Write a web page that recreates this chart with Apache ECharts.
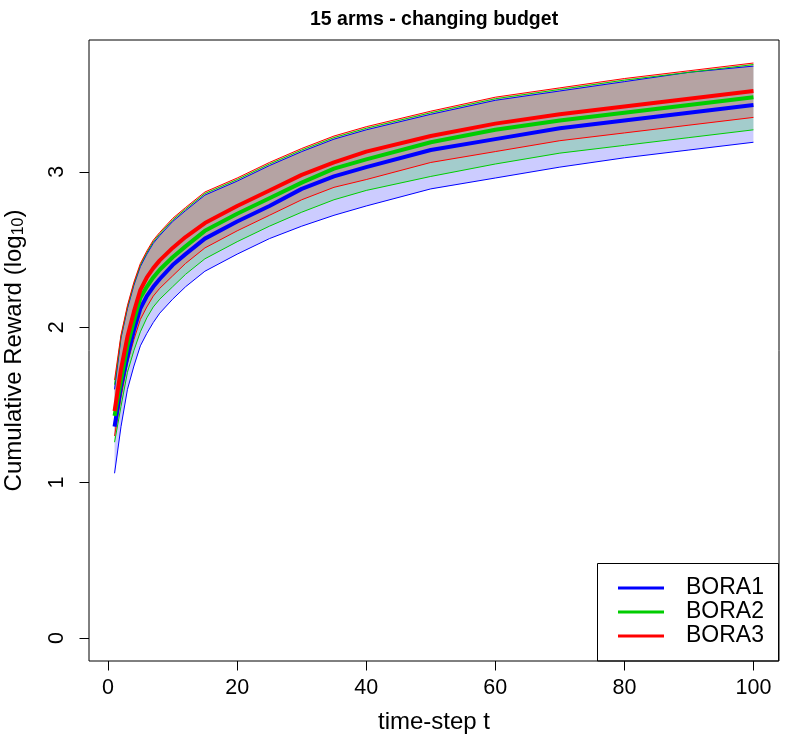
<!DOCTYPE html>
<html>
<head>
<meta charset="utf-8">
<title>15 arms - changing budget</title>
<script src="https://cdn.jsdelivr.net/npm/echarts@6/dist/echarts.min.js"></script>
<style>
  html, body { margin: 0; padding: 0; background: #fff; }
  #chart { width: 800px; height: 740px; }
</style>
</head>
<body>
<div id="chart"></div>
<script>
// time steps
var steps = [1, 2, 3, 4, 5, 6, 7, 8, 10, 12, 15, 20, 25, 30, 35, 40, 50, 60, 70, 80, 90, 100];

// BORA1 (blue)
var bora1Mean  = [1.36, 1.62, 1.81, 1.98, 2.12, 2.20, 2.26, 2.31, 2.40, 2.47, 2.57, 2.68, 2.78, 2.89, 2.97, 3.03, 3.14, 3.21, 3.28, 3.33, 3.38, 3.43];
var bora1Lower = [1.06, 1.36, 1.60, 1.75, 1.88, 1.96, 2.03, 2.09, 2.18, 2.26, 2.36, 2.47, 2.57, 2.65, 2.72, 2.78, 2.89, 2.96, 3.03, 3.09, 3.14, 3.19];
var bora1Upper = [1.60, 1.93, 2.12, 2.27, 2.39, 2.47, 2.54, 2.59, 2.68, 2.75, 2.85, 2.94, 3.04, 3.13, 3.21, 3.27, 3.37, 3.46, 3.52, 3.58, 3.64, 3.68];

// BORA2 (green)
var bora2Mean  = [1.43, 1.66, 1.88, 2.04, 2.19, 2.26, 2.32, 2.37, 2.45, 2.52, 2.62, 2.73, 2.83, 2.93, 3.02, 3.08, 3.19, 3.27, 3.33, 3.38, 3.43, 3.48];
var bora2Lower = [1.26, 1.49, 1.71, 1.85, 1.97, 2.06, 2.13, 2.18, 2.26, 2.34, 2.44, 2.55, 2.65, 2.74, 2.82, 2.88, 2.97, 3.05, 3.12, 3.17, 3.22, 3.27];
var bora2Upper = [1.63, 1.94, 2.13, 2.28, 2.40, 2.48, 2.55, 2.60, 2.69, 2.76, 2.86, 2.95, 3.05, 3.14, 3.22, 3.28, 3.38, 3.47, 3.53, 3.59, 3.64, 3.69];

// BORA3 (red)
var bora3Mean  = [1.46, 1.73, 1.94, 2.10, 2.24, 2.32, 2.38, 2.43, 2.51, 2.58, 2.67, 2.78, 2.88, 2.98, 3.06, 3.13, 3.23, 3.31, 3.37, 3.42, 3.47, 3.52];
var bora3Lower = [1.30, 1.55, 1.77, 1.92, 2.05, 2.13, 2.20, 2.25, 2.33, 2.41, 2.51, 2.62, 2.72, 2.82, 2.90, 2.95, 3.06, 3.13, 3.20, 3.25, 3.30, 3.35];
var bora3Upper = [1.66, 1.95, 2.14, 2.29, 2.41, 2.49, 2.56, 2.61, 2.70, 2.77, 2.87, 2.96, 3.06, 3.15, 3.23, 3.29, 3.39, 3.48, 3.54, 3.60, 3.65, 3.70];

var xTicks = [0, 20, 40, 60, 80, 100];
var yTicks = [0, 1, 2, 3];

var FONT = 'Liberation Sans, Arial, sans-serif';

function pairs(ys) {
    return steps.map(function (t, i) { return [t, ys[i]]; });
}

var algos = [
    { name: 'BORA1', color: '#0000ff', fill: 'rgba(0,0,255,0.2)', mean: bora1Mean, lower: bora1Lower, upper: bora1Upper },
    { name: 'BORA2', color: '#00cd00', fill: 'rgba(0,205,0,0.2)', mean: bora2Mean, lower: bora2Lower, upper: bora2Upper },
    { name: 'BORA3', color: '#ff0000', fill: 'rgba(255,0,0,0.2)', mean: bora3Mean, lower: bora3Lower, upper: bora3Upper }
];

var series = [];

// shaded band (polygon upper -> lower) and its two thin edge lines
algos.forEach(function (a, k) {
    series.push({
        name: a.name + ' band',
        type: 'custom',
        silent: true,
        z: 2 + k * 0.1,
        data: [[steps[0], a.lower[0]]],
        renderItem: function (params, api) {
            var pts = [];
            steps.forEach(function (t, i) { pts.push(api.coord([t, a.upper[i]])); });
            for (var i = steps.length - 1; i >= 0; i--) {
                pts.push(api.coord([steps[i], a.lower[i]]));
            }
            return { type: 'polygon', shape: { points: pts }, style: { fill: a.fill } };
        }
    });
    series.push({
        name: a.name + ' lower',
        type: 'line',
        data: pairs(a.lower),
        symbol: 'none',
        silent: true,
        z: 3,
        lineStyle: { color: a.color, width: 1 },
        itemStyle: { color: a.color }
    });
    series.push({
        name: a.name + ' upper',
        type: 'line',
        data: pairs(a.upper),
        symbol: 'none',
        silent: true,
        z: 3,
        lineStyle: { color: a.color, width: 1 },
        itemStyle: { color: a.color }
    });
});

// mean curves on top
algos.forEach(function (a) {
    series.push({
        name: a.name,
        type: 'line',
        data: pairs(a.mean),
        symbol: 'none',
        z: 5,
        lineStyle: { color: a.color, width: 4 },
        itemStyle: { color: a.color }
    });
});

var chart = echarts.init(document.getElementById('chart'));
chart.setOption({
    animation: false,
    backgroundColor: '#fff',
    textStyle: { fontFamily: FONT, color: '#000' },
    title: {
        text: '15 arms - changing budget',
        left: 310,
        top: 10,
        padding: 0,
        textStyle: { fontFamily: FONT, fontSize: 19.5, fontWeight: 'bold', color: '#000' }
    },
    grid: {
        left: 89,
        right: 21,
        top: 40,
        bottom: 79,
        show: true,
        borderColor: '#000',
        borderWidth: 1,
        backgroundColor: 'transparent',
        containLabel: false,
        outerBoundsMode: 'none'
    },
    legend: {
        data: ['BORA1', 'BORA2', 'BORA3'],
        orient: 'vertical',
        left: 618,
        top: 576,
        padding: 0,
        itemGap: 0,
        icon: 'rect',
        itemWidth: 46,
        itemHeight: 3,
        selectedMode: false,
        textStyle: {
            fontFamily: FONT,
            fontSize: 23,
            lineHeight: 24,
            color: '#000',
            padding: [0, 0, 0, 17]
        }
    },
    graphic: [{
        type: 'rect',
        shape: { x: 597.5, y: 563.5, width: 181, height: 97.5 },
        style: { fill: null, stroke: '#000', lineWidth: 1 },
        z: 10
    }],
    xAxis: {
        type: 'value',
        min: -2.96,
        max: 103.96,
        name: 'time-step t',
        nameLocation: 'middle',
        nameGap: 49,
        nameTextStyle: { fontFamily: FONT, fontSize: 24, color: '#000' },
        splitLine: { show: false },
        axisLine: { show: false, onZero: false },
        axisTick: {
            show: true,
            customValues: xTicks,
            length: 9.5,
            lineStyle: { color: '#000', width: 1 }
        },
        axisLabel: {
            customValues: xTicks,
            margin: 16,
            fontFamily: FONT,
            fontSize: 21.5,
            color: '#000'
        }
    },
    yAxis: {
        type: 'value',
        min: -0.148,
        max: 3.848,
        name: 'Cumulative Reward (log{s|10})',
        nameLocation: 'middle',
        nameGap: 62,
        nameTextStyle: {
            fontFamily: FONT,
            fontSize: 24,
            color: '#000',
            rich: {
                s: { fontFamily: FONT, fontSize: 16, color: '#000', verticalAlign: 'bottom', padding: [10, 0, 0, 0] }
            }
        },
        splitLine: { show: false },
        axisLine: { show: false, onZero: false },
        axisTick: {
            show: true,
            customValues: yTicks,
            length: 9.5,
            lineStyle: { color: '#000', width: 1 }
        },
        axisLabel: {
            customValues: yTicks,
            rotate: 90,
            margin: 21,
            fontFamily: FONT,
            fontSize: 21.5,
            color: '#000'
        }
    },
    series: series
});
</script>
</body>
</html>
